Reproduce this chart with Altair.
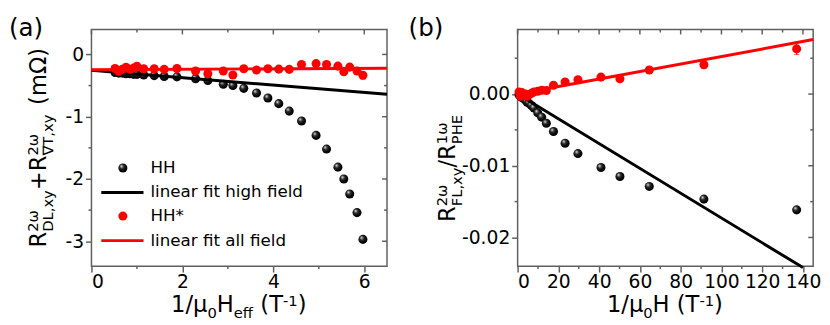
import altair as alt
import pandas as pd

FONT = "DejaVu Sans"
RED = "#ff0000"
FRAME = "#5f5f5f"
W, H = 301, 241
F_MAIN, F_SCRIPT = 23, 15

# ---------------- panel (a) data ----------------
a_x = [0.52, 0.60, 0.68, 0.76, 0.85, 0.93, 1.00, 1.15, 1.38, 1.60, 1.88, 2.29, 2.56, 2.90,
       3.11, 3.35, 3.63, 3.88, 4.12, 4.35, 4.62, 4.94, 5.17, 5.42, 5.55, 5.68, 5.84, 5.97]
a_hh = [-0.29, -0.30, -0.30, -0.31, -0.31, -0.32, -0.32, -0.33, -0.34, -0.355, -0.36, -0.39,
        -0.42, -0.48, -0.50, -0.545, -0.62, -0.70, -0.79, -0.91, -1.07, -1.30, -1.52, -1.81,
        -2.00, -2.24, -2.54, -2.97]
a_hhs = [-0.225, -0.27, -0.24, -0.205, -0.24, -0.22, -0.19, -0.23, -0.23, -0.24, -0.225, -0.267,
         -0.309, -0.267, -0.33, -0.23, -0.251, -0.23, -0.236, -0.24, -0.162, -0.147, -0.162,
         -0.188, -0.277, -0.204, -0.267, -0.335]
a_hhs_err = [0.03, 0.03, 0.03, 0.03, 0.03, 0.03, 0.03, 0.03, 0.03, 0.03, 0.03, 0.03, 0.03, 0.03,
             0.03, 0.03, 0.03, 0.03, 0.03, 0.03, 0.03, 0.03, 0.03, 0.03, 0.04, 0.04, 0.04, 0.06]
a_fit_x = [0.0, 6.5]
a_fit_hh = [-0.255, -0.64]
a_fit_hhs = [-0.245, -0.222]

# ---------------- panel (b) data ----------------
b_x = [0.7, 1.4, 2.1, 2.9, 3.7, 4.6, 5.6, 6.8, 8.0, 9.9, 11.8, 14.1, 17.6, 23.3, 29.6, 40.9,
       50.2, 64.6, 91.4, 136.9]
b_hh = [-0.0001, -0.0003, -0.0005, -0.0006, -0.0008, -0.0011, -0.0013, -0.0016, -0.00195,
        -0.00263, -0.00322, -0.00408, -0.00522, -0.00685, -0.0083, -0.01025, -0.0115, -0.01288,
        -0.01465, -0.01615]
b_hhs = [0.0003, -0.0003, 0.0002, -0.0002, 0.0, -0.0003, -0.0001, 0.0001, 0.0003, 0.0004,
         0.00054, 0.0005, 0.00122, 0.00168, 0.0020, 0.00236, 0.00213, 0.00336, 0.00408, 0.0063]
b_hhs_err = [0.0002, 0.0002, 0.0002, 0.0002, 0.0002, 0.0002, 0.0002, 0.0002, 0.0002, 0.0002,
             0.0002, 0.0002, 0.0002, 0.0002, 0.0002, 0.0002, 0.0003, 0.0003, 0.0005, 0.0008]
b_fit_hh_x = [0.0, 140.0]
b_fit_hh = [0.0, -0.0242]
b_fit_hhs_x = [0.0, 145.0]
b_fit_hhs = [0.0, 0.0076]

# ---------------- ticks ----------------
a_xticks, a_xminor = [0, 2, 4, 6], [1, 3, 5]
a_yticks, a_yminor = [0, -1, -2, -3], [-0.5, -1.5, -2.5]
b_xticks = [0, 20, 40, 60, 80, 100, 120, 140]
b_xminor = [10, 30, 50, 70, 90, 110, 130]
b_yticks, b_yminor = [0.0, -0.01, -0.02], [0.005, -0.005, -0.015]

legend_labels = ["HH", "linear fit high field", "HH*", "linear fit all field"]

# ---------------- helpers ----------------
EM = {' ': 0.318, '(': 0.390, ')': 0.390, '+': 0.838, ',': 0.318, '-': 0.361, '.': 0.318,
      '/': 0.337, 'D': 0.770, 'E': 0.632, 'F': 0.575, 'H': 0.752, 'L': 0.557, 'P': 0.603,
      'R': 0.695, 'T': 0.611, 'e': 0.615, 'f': 0.352, 'm': 0.974, 'x': 0.592, 'y': 0.592,
      'Ω': 0.766, 'ω': 0.818, 'μ': 0.636, '∇': 0.838}
for d in "0123456789":
    EM[d] = 0.636


def tw(s, size):
    return sum(EM.get(c, 0.6) for c in s) * size


ONE = pd.DataFrame({"k": [0]})


def token_w(tok):
    if tok[0] == "n":
        return tw(tok[1], F_MAIN)
    if tok[0] in ("sup", "sub"):
        return tw(tok[1], F_SCRIPT)
    return max(tw(tok[1], F_SCRIPT), tw(tok[2], F_SCRIPT))


def rich_title(tokens, center, base, vertical=False, sup=8, sub=7):
    L = sum(token_w(t) for t in tokens)
    pos = -L / 2.0
    layers = []

    def put(s, along, off, size):
        lead = len(s) - len(s.lstrip(" "))
        along2 = along + tw(" " * lead, size)
        s2 = s.lstrip(" ")
        mk = dict(text=s2, font=FONT, fontSize=size, align="left", baseline="alphabetic", color="black")
        if vertical:
            mk["angle"] = 270
            px, py = base + off, center - along2
        else:
            px, py = center + along2, base + off
        layers.append(alt.Chart(ONE).mark_text(**mk).encode(x=alt.value(px), y=alt.value(py)))

    for t in tokens:
        if t[0] == "n":
            put(t[1], pos, 0, F_MAIN)
        elif t[0] == "sup":
            put(t[1], pos, -sup, F_SCRIPT)
        elif t[0] == "sub":
            put(t[1], pos, sub, F_SCRIPT)
        else:
            put(t[1], pos, -sup, F_SCRIPT)
            put(t[2], pos, sub, F_SCRIPT)
        pos += token_w(t)
    return layers


def label(s, x, y):
    return alt.Chart(ONE).mark_text(text=s, font=FONT, fontSize=25, align="left",
                                    baseline="alphabetic", color="black").encode(
        x=alt.value(x), y=alt.value(y))


def lin(dom):
    return alt.Scale(domain=dom, nice=False, zero=False)


def ax(values, expr=None, pad=2):
    kw = dict(values=values, title=None, grid=False, domain=False, ticks=True, tickSize=6,
              tickWidth=1.5, tickColor=FRAME, labelFont=FONT, labelFontSize=19,
              labelColor="black", labelPadding=pad)
    if expr:
        kw["labelExpr"] = expr
    return alt.Axis(**kw)


SPHERE = alt.RadialGradient(
    gradient="radial",
    stops=[alt.GradientStop(color="#ffffff", offset=0.0),
           alt.GradientStop(color="#9a9a9a", offset=0.14),
           alt.GradientStop(color="#2a2a2a", offset=0.38),
           alt.GradientStop(color="#080808", offset=0.7),
           alt.GradientStop(color="#000000", offset=1.0)],
    x1=0.34, y1=0.3, r1=0.0, x2=0.42, y2=0.42, r2=0.62)


def tick_layers(XF, YF, xmaj, xmin, ymaj, ymin):
    out = []

    def rule():
        return dict(color=FRAME, strokeWidth=1.5)
    out.append(alt.Chart(pd.DataFrame({"v": xmaj})).mark_rule(**rule()).encode(
        x=XF("v"), y=alt.value(0), y2=alt.value(5)))
    out.append(alt.Chart(pd.DataFrame({"v": xmin})).mark_rule(**rule()).encode(
        x=XF("v"), y=alt.value(0), y2=alt.value(3)))
    out.append(alt.Chart(pd.DataFrame({"v": xmin})).mark_rule(**rule()).encode(
        x=XF("v"), y=alt.value(H), y2=alt.value(H + 3)))
    out.append(alt.Chart(pd.DataFrame({"v": ymaj})).mark_rule(**rule()).encode(
        y=YF("v"), x=alt.value(W - 5), x2=alt.value(W)))
    out.append(alt.Chart(pd.DataFrame({"v": ymin})).mark_rule(**rule()).encode(
        y=YF("v"), x=alt.value(W - 3), x2=alt.value(W)))
    out.append(alt.Chart(pd.DataFrame({"v": ymin})).mark_rule(**rule()).encode(
        y=YF("v"), x=alt.value(-3), x2=alt.value(0)))
    return out


def data_layers(XF, YF, xs, hh, hhs, err, fx1, fy1, fx2, fy2, cap):
    hh_df = pd.DataFrame({"x": xs, "y": hh})
    hhs_df = pd.DataFrame({"x": xs, "y": hhs, "e": err})
    f1 = pd.DataFrame({"x": fx1, "y": fy1})
    f2 = pd.DataFrame({"x": fx2, "y": fy2})
    errb = alt.Chart(hhs_df).transform_calculate(
        lo="datum.y - datum.e", hi="datum.y + datum.e")
    return [
        alt.Chart(hh_df).mark_circle(size=85, opacity=1, fill=SPHERE).encode(x=XF("x"), y=YF("y")),
        alt.Chart(f1).mark_line(color="black", strokeWidth=3).encode(x=XF("x"), y=YF("y")),
        errb.mark_rule(color=RED, strokeWidth=1).encode(x=XF("x"), y=YF("lo"), y2="hi:Q"),
        errb.mark_tick(color=RED, orient="horizontal", size=cap, thickness=1).encode(x=XF("x"), y=YF("lo")),
        alt.Chart(hhs_df).mark_circle(size=85, opacity=1, color=RED).encode(x=XF("x"), y=YF("y")),
        alt.Chart(f2).mark_line(color=RED, strokeWidth=3).encode(x=XF("x"), y=YF("y")),
    ]


# ---------------- panel (a) ----------------
def XA(f):
    return alt.X(f + ":Q", scale=lin([0, 6.5]), axis=ax(a_xticks, pad=1))


def YA(f):
    return alt.Y(f + ":Q", scale=lin([-3.4, 0.4]),
                 axis=ax(a_yticks, "datum.value < 0 ? '-' + format(-datum.value, 'd') : format(datum.value, 'd')"))


layers_a = tick_layers(XA, YA, a_xticks, a_xminor, a_yticks, a_yminor)
layers_a += data_layers(XA, YA, a_x, a_hh, a_hhs, a_hhs_err, a_fit_x, a_fit_hh, a_fit_x, a_fit_hhs, 6)

leg_y = [141, 166, 190, 215]
layers_a.append(alt.Chart(ONE).mark_circle(size=85, opacity=1, fill=SPHERE).encode(
    x=alt.value(32), y=alt.value(leg_y[0])))
layers_a.append(alt.Chart(ONE).mark_rule(color="black", strokeWidth=3).encode(
    x=alt.value(10), x2=alt.value(53), y=alt.value(leg_y[1])))
layers_a.append(alt.Chart(ONE).mark_circle(size=85, opacity=1, color=RED).encode(
    x=alt.value(32), y=alt.value(leg_y[2])))
layers_a.append(alt.Chart(ONE).mark_rule(color=RED, strokeWidth=3).encode(
    x=alt.value(10), x2=alt.value(53), y=alt.value(leg_y[3])))
for lab, yy in zip(legend_labels, leg_y):
    layers_a.append(alt.Chart(ONE).mark_text(text=lab, font=FONT, fontSize=17, align="left",
                                             baseline="middle", color="black").encode(
        x=alt.value(60), y=alt.value(yy)))

layers_a += rich_title([("n", "1/μ"), ("sub", "0"), ("n", "H"), ("sub", "eff"), ("n", " (T"),
                        ("sup", "-1"), ("n", ")")], 150, 288, sup=6, sub=6)
tok_ay = [("n", "R"), ("ss", "2ω", "DL,xy"), ("n", "+R"), ("ss", "2ω", "∇T,xy"), ("n", " (mΩ)")]
L_ay = sum(token_w(t) for t in tok_ay)
layers_a += rich_title(tok_ay, 222 - L_ay / 2, -46, vertical=True)
layers_a.append(label("(a)", -84, 7))

panel_a = alt.layer(*layers_a).properties(width=W, height=H)

# ---------------- panel (b) ----------------
def XB(f):
    return alt.X(f + ":Q", scale=lin([0, 145]), axis=ax(b_xticks, pad=1))


def YB(f):
    return alt.Y(f + ":Q", scale=lin([-0.024, 0.009]),
                 axis=ax(b_yticks, "datum.value < 0 ? '-' + format(-datum.value, '.2f') : format(datum.value, '.2f')"))


layers_b = tick_layers(XB, YB, b_xticks, b_xminor, b_yticks, b_yminor)
layers_b += data_layers(XB, YB, b_x, b_hh, b_hhs, b_hhs_err, b_fit_hh_x, b_fit_hh,
                        b_fit_hhs_x, b_fit_hhs, 5)
layers_b += rich_title([("n", "1/μ"), ("sub", "0"), ("n", "H (T"), ("sup", "-1"), ("n", ")")], 150, 288,
                       sup=6, sub=6)
tok_by = [("n", "R"), ("ss", "2ω", "FL,xy"), ("n", "/R"), ("ss", "1ω", "PHE")]
L_by = sum(token_w(t) for t in tok_by)
layers_b += rich_title(tok_by, 196 - L_by / 2, -64, vertical=True)
layers_b.append(label("(b)", -111, 7))

panel_b = alt.layer(*layers_b).properties(width=W, height=H)

chart = alt.hconcat(panel_a, panel_b, spacing=14).properties(
    padding={"left": 0, "top": 5, "right": 0, "bottom": 0}, background="white"
).configure_view(stroke=FRAME, strokeWidth=1.5)

chart.save("out.html", embed_options={"renderer": "svg", "actions": False})
